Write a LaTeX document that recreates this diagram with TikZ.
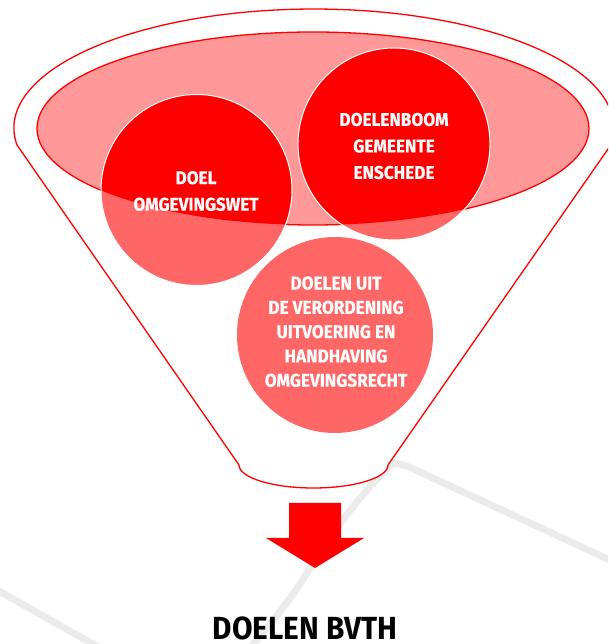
\documentclass[tikz,border=0pt]{standalone}
\usepackage{fontspec}
\newfontfamily\lblfont{Fira Sans}[FakeStretch=0.93,FakeBold=0.4]
\newfontfamily\ttlfont{Fira Sans}[FakeStretch=0.93]
\definecolor{fred}{HTML}{FF0000}
\definecolor{fpink}{HTML}{FF9999}
\definecolor{flight}{HTML}{FF6666}
\definecolor{fgrey}{HTML}{EBEBEB}
\begin{document}
\begin{tikzpicture}[x=1pt,y=1pt,
  circ/.style={circle, fill=flight, inner sep=0pt, draw=none},
  lbl/.style={text=white, inner sep=0pt, align=center,
    font=\lblfont\bfseries\fontsize{18.5}{26.5}\selectfont},
  lblc/.style={text=white, inner sep=0pt, align=center,
    font=\lblfont\bfseries\fontsize{18.5}{24.3}\selectfont},
  title/.style={text=black, inner sep=0pt,
    font=\ttlfont\bfseries\fontsize{32}{36}\selectfont},
  greyline/.style={fgrey, line width=7pt, line join=round, line cap=round},
  funnelline/.style={fred, line width=1.3pt}]
\useasboundingbox (0,0) rectangle (608,644);
\clip (0,0) rectangle (608,644);
% background grey lines
\draw[greyline] (640,70) -- (420,172) .. controls (405,179) .. (393,181)
  .. controls (370,160) and (335,118) .. (307,71)
  .. controls (290,43) and (270,20) .. (248,-6);
\draw[greyline] (-10,58) -- (100,-4);
% funnel
\draw[funnelline, fill=white] (17,499)
  arc[start angle=188.2, end angle=-8.2, x radius=300, y radius=119]
  -- (388,179)
  arc[start angle=0, end angle=-180, x radius=74.5, y radius=23]
  -- cycle;
% inner ellipse
\draw[funnelline, fill=fpink] (313,515.5) ellipse [x radius=276, y radius=96.5];
% circles
\node[circ, minimum size=191pt] (c1) at (196.5,454) {};
\node[circ, minimum size=192pt] (c2) at (394,500) {};
\node[circ, minimum size=196pt] (c3) at (335,309) {};
\begin{scope}
  \clip (313,515.5) ellipse [x radius=276, y radius=96.5];
  \fill[fred] (c1.center) circle (95.5);
  \fill[fred] (c2.center) circle (96);
\end{scope}
\draw[white, line width=1pt] (c1.center) circle (95.5);
\draw[white, line width=1pt] (c2.center) circle (96);
% labels
\node[lbl] (t1) at (196,453) {DOEL\\OMGEVINGSWET};
\node[lbl] (t2) at (394,498) {DOELENBOOM\\GEMEENTE\\ENSCHEDE};
\node[lblc] (t3) at (336,312.3) {DOELEN UIT\\DE VERORDENING\\UITVOERING EN\\HANDHAVING\\OMGEVINGSRECHT};
% arrow
\fill[fred] (289,141) -- (341,141) -- (341,106) -- (364,106) -- (315,76)
  -- (266,106) -- (289,106) -- cycle;
\node[title] (t4) at (305,16) {DOELEN BVTH};
\end{tikzpicture}
\end{document}
